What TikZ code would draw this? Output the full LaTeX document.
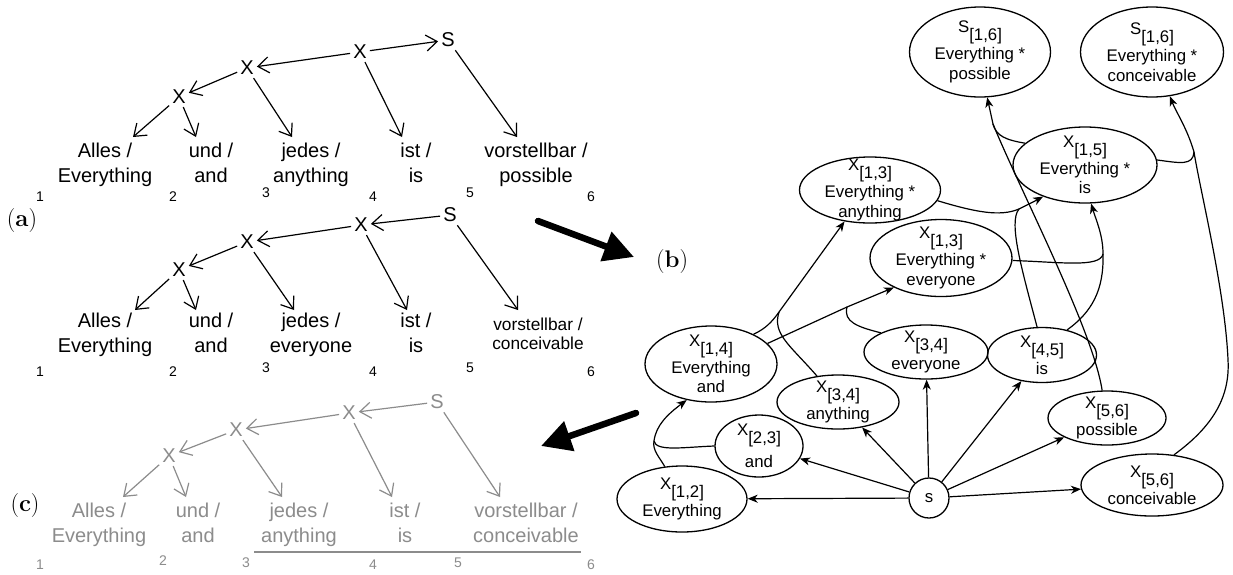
\documentclass[tikz,border=0pt]{standalone}
\usepackage{fontspec}
\newfontfamily\lib{Liberation Sans}
\usetikzlibrary{arrows.meta,shapes.geometric,calc}
\definecolor{tg}{RGB}{140,140,140}
\newcommand\sbx[1]{\raisebox{-8pt}[0pt][0pt]{#1}}
\begin{document}
\begin{tikzpicture}[x=1pt,y=-1pt,line join=round,
  sym/.style={inner sep=3pt, font=\lib\fontsize{20}{24}\selectfont},
  wrd/.style={anchor=base, align=center, inner sep=0pt, font=\lib\fontsize{20}{25}\selectfont},
  wsm/.style={anchor=base, align=center, inner sep=0pt, font=\lib\fontsize{17.3}{19}\selectfont},
  num/.style={inner sep=0pt, font=\lib\fontsize{14}{16}\selectfont},
  tarr/.style={line width=1.2pt, -{Straight Barb[length=11pt,width=16pt]}},
  ell/.style={draw, ellipse, line width=1.3pt, inner sep=0pt},
  etx/.style={align=center, inner sep=0pt, font=\lib\fontsize{16.8}{19.5}\selectfont},
  harr/.style={line width=1.2pt, -{Stealth[length=10pt,width=8pt,inset=3pt]}},
  hln/.style={line width=1.2pt},
  big/.style={line width=6.5pt, line cap=round, -{Triangle[length=30pt,width=30pt]}},
  lab/.style={inner sep=0pt, font=\fontsize{24}{28}\selectfont}
]
\fill[white] (0,0) rectangle (1233,574);
\useasboundingbox (0,0) rectangle (1233,574);

% ---------- labels ----------
\node[lab] (la) at (22,221) {(\textbf{a})};
\node[lab] (lb) at (672,262) {(\textbf{b})};
\node[lab] (lc) at (25,505) {(\textbf{c})};

% ---------- tree 1 ----------
\node[sym] (S1) at (448,40) {S};
\node[sym] (X1a) at (360,52) {X};
\node[sym] (X1b) at (247,68) {X};
\node[sym] (X1c) at (179,97) {X};
\node[wrd] (w11) at (105,182) {Alles /\\Everything};
\node[wrd] (w12) at (211,182) {und /\\and};
\node[wrd] (w13) at (311,182) {jedes /\\anything};
\node[wrd] (w14) at (416,182) {ist /\\is};
\node[wrd] (w15) at (536,182) {vorstellbar /\\possible};
\draw[tarr] (X1a) -- (S1);
\draw[tarr] (X1a) -- (X1b);
\draw[tarr] (X1b) -- (X1c);
\draw[tarr] (X1c) -- ([xshift=28pt,yshift=45pt]w11.base);
\draw[tarr] (X1c) -- ([xshift=-15pt,yshift=45pt]w12.base);
\draw[tarr] (X1b) -- ([xshift=-19pt,yshift=45pt]w13.base);
\draw[tarr] (X1a) -- ([xshift=-14pt,yshift=45pt]w14.base);
\draw[tarr] (S1) -- ([xshift=-19pt,yshift=45pt]w15.base);
\node[num] (n11) at (40,197) {1};
\node[num] (n12) at (173,197) {2};
\node[num] (n13) at (266,193) {3};
\node[num] (n14) at (373,197) {4};
\node[num] (n15) at (470,193) {5};
\node[num] (n16) at (591,197) {6};

% ---------- tree 2 ----------
\node[sym] (S2) at (450,215) {S};
\node[sym] (X2a) at (361,225) {X};
\node[sym] (X2b) at (247,242) {X};
\node[sym] (X2c) at (179,270) {X};
\node[wrd] (w21) at (105,352) {Alles /\\Everything};
\node[wrd] (w22) at (211,352) {und /\\and};
\node[wrd] (w23) at (311,352) {jedes /\\everyone};
\node[wrd] (w24) at (416,352) {ist /\\is};
\node[wsm] (w25) at (538,349) {vorstellbar /\\conceivable};
\draw[tarr] (S2) -- (X2a);
\draw[tarr] (X2a) -- (X2b);
\draw[tarr] (X2b) -- (X2c);
\draw[tarr] (X2c) -- ([xshift=30pt,yshift=42pt]w21.base);
\draw[tarr] (X2c) -- ([xshift=-15pt,yshift=42pt]w22.base);
\draw[tarr] (X2b) -- ([xshift=-17pt,yshift=42pt]w23.base);
\draw[tarr] (X2a) -- ([xshift=-9pt,yshift=42pt]w24.base);
\draw[tarr] (S2) -- ([xshift=-20pt,yshift=39pt]w25.base);
\node[num] (n21) at (40,372) {1};
\node[num] (n22) at (173,372) {2};
\node[num] (n23) at (266,368) {3};
\node[num] (n24) at (373,372) {4};
\node[num] (n25) at (470,368) {5};
\node[num] (n26) at (591,372) {6};

% ---------- tree 3 (grey) ----------
\begin{scope}[color=tg]
\node[sym] (S3) at (437,402) {S};
\node[sym] (X3a) at (349,413) {X};
\node[sym] (X3b) at (236,430) {X};
\node[sym] (X3c) at (169,456) {X};
\node[wrd] (w31) at (99,542) {Alles /\\Everything};
\node[wrd] (w32) at (198,542) {und /\\and};
\node[wrd] (w33) at (299,542) {jedes /\\anything};
\node[wrd] (w34) at (405,542) {ist /\\is};
\node[wrd] (w35) at (526,542) {vorstellbar /\\conceivable};
\draw[tarr] (S3) -- (X3a);
\draw[tarr] (X3a) -- (X3b);
\draw[tarr] (X3b) -- (X3c);
\draw[tarr] (X3c) -- ([xshift=24pt,yshift=45pt]w31.base);
\draw[tarr] (X3c) -- ([xshift=-12pt,yshift=45pt]w32.base);
\draw[tarr] (X3b) -- ([xshift=-17pt,yshift=45pt]w33.base);
\draw[tarr] (X3a) -- ([xshift=-13pt,yshift=45pt]w34.base);
\draw[tarr] (S3) -- ([xshift=-26pt,yshift=45pt]w35.base);
\node[num] (n31) at (40,565) {1};
\node[num] (n32) at (163,561) {2};
\node[num] (n33) at (246,563) {3};
\node[num] (n34) at (373,565) {4};
\node[num] (n35) at (458,563) {5};
\node[num] (n36) at (591,565) {6};
\coordinate (ul1) at (254,552);
\coordinate (ul2) at (581,552);
\draw[line width=1.5pt] (ul1) -- (ul2);
\end{scope}

% ---------- big arrows ----------
\coordinate (ba1) at (538,221);
\coordinate (ba2) at (634,257);
\coordinate (ba3) at (636,413);
\coordinate (ba4) at (541,446);
\draw[big] (ba1) -- (ba2);
\draw[big] (ba3) -- (ba4);

% ---------- hypergraph ----------
\node[ell, minimum width=141pt, minimum height=90pt] (sp) at (980,52) {};
\node[etx] (spt) at (sp) {S\sbx{[1,6]}\\[7.5pt]Everything *\\possible};
\node[ell, minimum width=143pt, minimum height=90pt] (sc) at (1152,52) {};
\node[etx] (sct) at (sc) {S\sbx{[1,6]}\\[7.5pt]Everything *\\conceivable};
\node[ell, minimum width=144pt, minimum height=76pt] (x15) at (1085,165) {};
\node[etx] (x15t) at (x15) {X\sbx{[1,5]}\\[7.5pt]Everything *\\is};
\node[ell, minimum width=141pt, minimum height=66pt] (x13a) at (870,190) {};
\node[etx] (x13at) at (x13a) {X\sbx{[1,3]}\\[7.5pt]Everything *\\anything};
\node[ell, minimum width=142pt, minimum height=77pt] (x13e) at (941,258) {};
\node[etx] (x13et) at (x13e) {X\sbx{[1,3]}\\[7.5pt]Everything *\\everyone};
\node[ell, minimum width=132pt, minimum height=76pt] (x14) at (711,364) {};
\node[etx] (x14t) at (x14) {X\sbx{[1,4]}\\[7.5pt]Everything\\and};
\node[ell, minimum width=124pt, minimum height=54pt] (x34e) at (926,352) {};
\node[etx] (x34et) at (x34e) {X\sbx{[3,4]}\\[7.5pt]everyone};
\node[ell, minimum width=109pt, minimum height=55pt] (x45) at (1042,355) {};
\node[etx] (x45t) at (x45) {X\sbx{[4,5]}\\[7.5pt]is};
\node[ell, minimum width=122pt, minimum height=54pt] (x34a) at (838,402) {};
\node[etx] (x34at) at (x34a) {X\sbx{[3,4]}\\[7.5pt]anything};
\node[ell, minimum width=88pt, minimum height=62pt] (x23) at (759,446) {};
\node[etx] (x23t) at (x23) {X\sbx{[2,3]}\\[12.5pt]and};
\node[ell, minimum width=118pt, minimum height=54pt] (x56p) at (1107,418) {};
\node[etx] (x56pt) at (x56p) {X\sbx{[5,6]}\\[7.5pt]possible};
\node[ell, minimum width=130pt, minimum height=66pt] (x12) at (682,499) {};
\node[etx] (x12t) at (x12) {X\sbx{[1,2]}\\[7.5pt]Everything};
\node[ell, minimum width=142pt, minimum height=62pt] (x56c) at (1152,485) {};
\node[etx] (x56ct) at (x56c) {X\sbx{[5,6]}\\[7.5pt]conceivable};
\node[draw, circle, line width=1.3pt, minimum size=40pt, inner sep=0pt,
      font=\lib\fontsize{16.8}{19.5}\selectfont] (s) at (929,498) {s};

% edges from s
\draw[harr] (s) -- (x12);
\draw[harr] (s) -- (x23);
\draw[harr] (s) -- (x34a);
\draw[harr] (s) -- (x34e);
\draw[harr] (s) -- (x45);
\draw[harr] (s) -- (x56p);
\draw[harr] (s) -- (x56c);

% hyperedge 1
\coordinate (j1) at (654,441);
\draw[hln] (x12.118) .. controls (660,458) and (652,450) .. (j1);
\draw[hln] (x23.west) .. controls (685,447) and (656,452) .. (j1);
\draw[harr] (j1) .. controls (656,425) and (668,414) .. (x14.236);
% hyperedge 2
\coordinate (j2) at (779,312);
\draw[hln] (x14.35) .. controls (765,329) and (772,322) .. (j2);
\draw[hln] (x34a.129) .. controls (790,345) and (772,334) .. (j2);
\draw[harr] (j2) -- (x13a.231);
% hyperedge 3
\coordinate (j3) at (847,307);
\draw[hln] (x14.20) -- (j3);
\draw[hln] (x34e.157) .. controls (858,327) and (843,322) .. (j3);
\draw[harr] (j3) -- (x13e.212);
% hyperedge 4
\coordinate (j4) at (1019,209);
\draw[hln] (x13a.351) .. controls (975,212) and (1000,217) .. (j4);
\draw[hln] (x45.100) .. controls (1022,270) and (1008,222) .. (j4);
\draw[harr] (j4) .. controls (1027,205) and (1035,201) .. (x15.217);
% hyperedge 5
\coordinate (j5) at (1103,254);
\draw[hln] (x13e.358) .. controls (1060,262) and (1100,268) .. (j5);
\draw[hln] (x45.45) .. controls (1092,312) and (1104,290) .. (j5);
\draw[harr] (j5) .. controls (1103,235) and (1096,220) .. (x15.279);
% hyperedge 6
\coordinate (j6) at (993,124);
\draw[hln] (x15.160) .. controls (1006,140) and (996,136) .. (j6);
\draw[hln] (x56p.100) .. controls (1093,330) and (1020,190) .. (j6);
\draw[harr] (j6) -- (sp.279);
% hyperedge 7
\coordinate (j7) at (1194,152);
\draw[hln] (x15.4) .. controls (1180,163) and (1193,166) .. (j7);
\draw[hln] (x56c.54) .. controls (1215,425) and (1230,395) .. (1228,360) .. controls (1225,290) and (1200,190) .. (j7);
\draw[harr] (j7) .. controls (1187,128) and (1176,112) .. (sc.292);
\end{tikzpicture}
\end{document}
